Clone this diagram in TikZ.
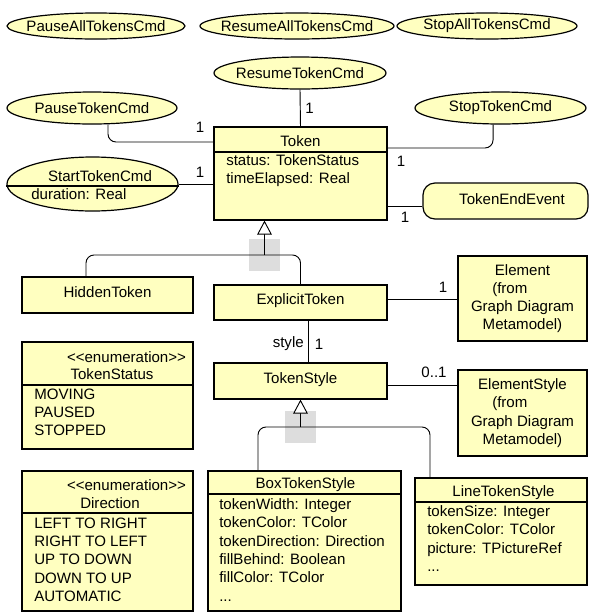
\documentclass[tikz,border=0pt]{standalone}
\usepackage{fontspec}
\setmainfont{Liberation Sans}
\usetikzlibrary{arrows.meta,shapes.geometric,positioning}
\definecolor{umlfill}{RGB}{255,255,192}
\definecolor{handlegray}{RGB}{221,221,221}
\newcommand{\cmdtext}[1]{\makebox[0pt]{#1}}
\newcommand{\stereo}[1]{<{}<#1>{}>}

\begin{document}
\begin{tikzpicture}[x=0.75pt,y=-0.75pt,
    font=\fontsize{11.3}{13.7}\selectfont,
    cmd/.style={ellipse,draw,fill=umlfill,line width=0.9pt,inner sep=0pt},
    box/.style={rectangle,draw,fill=umlfill,line width=0.9pt,inner sep=0pt},
    titlebox/.style={box,text height=8pt,text depth=4.5pt},
    txt/.style={inner sep=0pt},
    attrs/.style={inner sep=0pt,anchor=north west,align=left},
    mult/.style={inner sep=0pt},
    divider/.style={line width=0.9pt},
    conn/.style={line width=0.7pt,rounded corners=6pt},
    gen/.style={-{Triangle[width=11pt,length=10.5pt,fill=white]}},
    handle/.style={fill=handlegray,minimum width=23.25pt,minimum height=24pt,inner sep=0pt}]
  \useasboundingbox (0,0) rectangle (589,612);

  \node[cmd,minimum width=133.5pt,minimum height=19.5pt] (PauseAll) at (96,26) {\cmdtext{PauseAllTokensCmd}};
  \node[cmd,minimum width=145.5pt,minimum height=19.5pt] (ResumeAll) at (297,26) {\cmdtext{ResumeAllTokensCmd}};
  \node[cmd,minimum width=135pt,minimum height=19.5pt] (StopAll) at (487,26) {\cmdtext{StopAllTokensCmd}};
  \node[cmd,minimum width=129pt,minimum height=24pt] (ResumeTokenCmd) at (300,73) {\cmdtext{ResumeTokenCmd}};
  \node[cmd,minimum width=127.5pt,minimum height=24pt] (PauseTokenCmd) at (92,108) {\cmdtext{PauseTokenCmd}};
  \node[cmd,minimum width=128.25pt,minimum height=24pt] (StopTokenCmd) at (500.5,108) {\cmdtext{StopTokenCmd}};

  \node[cmd,minimum width=128.25pt,minimum height=40.5pt] (StartTokenCmd) at (92.5,184) {};
  \draw[divider] (StartTokenCmd.west |- 0,186) -- (StartTokenCmd.east |- 0,186);
  \node[txt] (StartTitle) at (100,176) {StartTokenCmd};
  \node[attrs] (StartAttrs) at (31,188.5) {duration: Real};

  \node[box,minimum width=129.75pt,minimum height=69.75pt] (Token) at (300.5,173.5) {};
  \node[txt] (TokenTitle) at (300.5,141) {Token};
  \draw[divider] (Token.west |- 0,152) -- (Token.east |- 0,152);
  \node[attrs] (TokenAttrs) at (226,154.5) {status: TokenStatus\\timeElapsed: Real};

  \node[box,rounded corners=9pt,minimum width=123.75pt,minimum height=27pt] (TokenEndEvent) at (505.5,201) {};
  \node[txt] (EndTitle) at (512,199) {TokenEndEvent};

  \node[titlebox,minimum width=128.25pt,minimum height=27pt] (HiddenToken) at (107.5,295) {HiddenToken};
  \node[titlebox,minimum width=129.75pt,minimum height=26.25pt] (ExplicitToken) at (300.5,302.5) {ExplicitToken};
  \node[titlebox,minimum width=129.75pt,minimum height=27pt] (TokenStyle) at (300.5,381) {TokenStyle};
  \node[box,align=center,minimum width=96.75pt,minimum height=63.75pt] (Element) at (522.5,298.5)
    {Element\\(from\rule{19pt}{0pt}\\Graph Diagram\\Metamodel)};
  \node[box,align=center,minimum width=96.75pt,minimum height=64.5pt] (ElementStyle) at (522.5,413)
    {ElementStyle\\(from\rule{19pt}{0pt}\\Graph Diagram\\Metamodel)};

  \node[box,minimum width=128.25pt,minimum height=80.25pt] (TokenStatus) at (107.5,395.5) {};
  \node[txt] (TokenStatusStereo) at (126.5,357) {\stereo{enumeration}};
  \node[txt] (TokenStatusName) at (112,374) {TokenStatus};
  \draw[divider] (TokenStatus.west |- 0,385) -- (TokenStatus.east |- 0,385);
  \node[attrs] (TokenStatusItems) at (34,388.5) {MOVING\\PAUSED\\STOPPED};

  \node[box,minimum width=128.25pt,minimum height=105pt] (Direction) at (107.5,541) {};
  \node[txt] (DirectionStereo) at (126.5,485) {\stereo{enumeration}};
  \node[txt] (DirectionName) at (110,503) {Direction};
  \draw[divider] (Direction.west |- 0,513) -- (Direction.east |- 0,513);
  \node[attrs] (DirectionItems) at (34,517.5) {LEFT TO RIGHT\\RIGHT TO LEFT\\UP TO DOWN\\DOWN TO UP\\AUTOMATIC};

  \node[box,minimum width=144.75pt,minimum height=105pt] (BoxTokenStyle) at (304.5,541) {};
  \node[txt] (BoxTitle) at (305.5,485) {BoxTokenStyle};
  \draw[divider] (BoxTokenStyle.west |- 0,494) -- (BoxTokenStyle.east |- 0,494);
  \node[attrs] (BoxAttrs) at (219,498.5) {tokenWidth: Integer\\tokenColor: TColor\\tokenDirection: Direction\\fillBehind: Boolean\\fillColor: TColor\\...};

  \node[box,minimum width=129pt,minimum height=80.25pt] (LineTokenStyle) at (501,531.5) {};
  \node[txt] (LineTitle) at (503.5,493) {LineTokenStyle};
  \draw[divider] (LineTokenStyle.west |- 0,502) -- (LineTokenStyle.east |- 0,502);
  \node[attrs] (LineAttrs) at (427,505.5) {tokenSize: Integer\\tokenColor: TColor\\picture: TPictureRef\\...};

  \node[handle] (h1) at (264.5,255) {};
  \node[handle] (h2) at (300.5,427) {};

  \draw[conn] (ResumeTokenCmd.south) -- (Token.north);
  \draw[conn] ([xshift=12pt]PauseTokenCmd.south) |- (Token.west |- 0,142);
  \draw[conn] ([xshift=-5.6pt]StopTokenCmd.south) |- (Token.east |- 0,148);
  \draw[conn] (StartTokenCmd.east) -- (Token.west |- StartTokenCmd.east);
  \draw[conn] (Token.east |- 0,206) -- (TokenEndEvent.west |- 0,206);
  \draw[conn] (ExplicitToken.east |- 0,299) -- (Element.west |- 0,299);
  \draw[conn] (ExplicitToken.south -| 308,0) -- (TokenStyle.north -| 308,0);
  \draw[conn] (TokenStyle.east |- 0,385) -- (ElementStyle.west |- 0,385);
  \draw[conn] (HiddenToken.north -| 86,0) |- (h1.center) -| (ExplicitToken.north);
  \draw[conn,gen] (h1.center) -- (Token.south -| h1.center);
  \draw[conn] (BoxTokenStyle.north -| 258,0) |- (h2.center) -| (LineTokenStyle.north -| 430,0);
  \draw[conn,gen] (h2.center) -- (TokenStyle.south);

  \node[mult,anchor=west] (mResume) at (305,108) {1};
  \node[mult] (mPause) at (200,127) {1};
  \node[mult] (mStart) at (200,172) {1};
  \node[mult] (mStop) at (401,161) {1};
  \node[mult] (mEnd) at (405,217) {1};
  \node[mult] (mElement) at (443,287) {1};
  \node[mult,anchor=east] (rStyle) at (304,344) {style};
  \node[mult] (mStyle) at (319,344) {1};
  \node[mult] (mElementStyle) at (434,372) {0..1};
\end{tikzpicture}
\end{document}
